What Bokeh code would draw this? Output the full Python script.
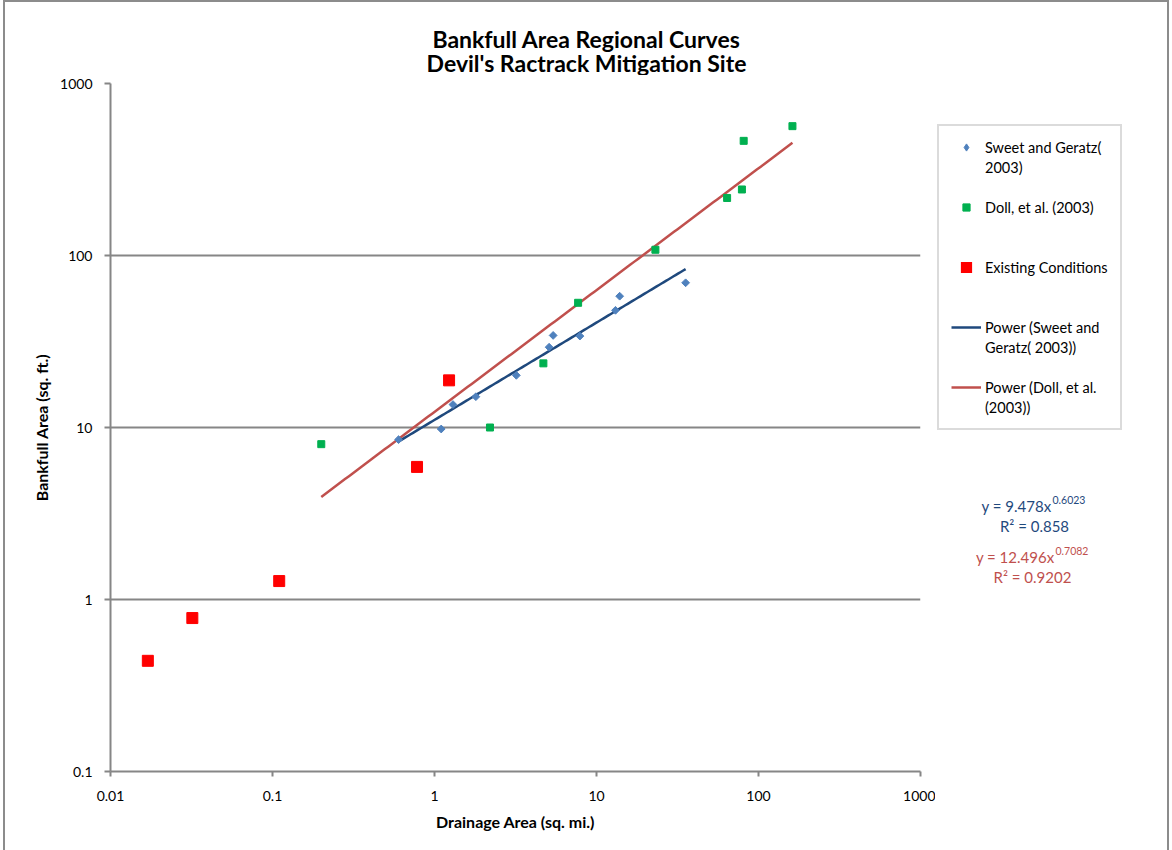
import numpy as np
from bokeh.plotting import figure
from bokeh.layouts import column, row
from bokeh.models import (Range1d, FixedTicker, CustomJSTickFormatter, Label,
                          Legend, LegendItem)
from bokeh.embed import file_html
from bokeh.resources import INLINE

# ---------------- data ----------------
title_lines = ["Bankfull Area Regional Curves", "Devil's Ractrack Mitigation Site"]
x_label = "Drainage Area (sq. mi.)"
y_label = "Bankfull Area (sq. ft.)"
x_ticks = [0.01, 0.1, 1, 10, 100, 1000]
y_ticks = [0.1, 1, 10, 100, 1000]

sweet_x = [0.6, 1.1, 1.3, 1.8, 3.2, 5.1, 5.4, 7.9, 13.1, 13.9, 35.5]
sweet_y = [8.5, 9.8, 13.6, 15.1, 20.1, 29.3, 34.3, 34.0, 48.0, 58.0, 69.4]

doll_x = [0.2, 2.2, 4.7, 7.7, 23.1, 64, 79, 81, 162]
doll_y = [8.0, 10.0, 23.6, 53.1, 108, 216, 242, 464, 565]

exist_x = [0.017, 0.032, 0.11, 0.78, 1.23]
exist_y = [0.44, 0.78, 1.28, 5.9, 18.8]

legend_labels = [["Sweet and Geratz(", "2003)"], ["Doll, et al. (2003)"],
                 ["Existing Conditions"], ["Power (Sweet and", "Geratz( 2003))"],
                 ["Power (Doll, et al.", "(2003))"]]

sweet_eq = ("y = 9.478x", "0.6023", "R\u00b2 = 0.858")
doll_eq = ("y = 12.496x", "0.7082", "R\u00b2 = 0.9202")

# ---------------- styles ----------------
FONT = "Lato"
GRID = "#868686"
BLUE_M = "#4F81BD"
GREEN_M = "#00B050"
RED_M = "#FF0000"
BLUE_L = "#1F497D"
RED_L = "#C0504D"

W_TOTAL, TOP_H, MAIN_W, BODY_H = 1169, 75, 935, 775
SIDE_W = W_TOTAL - MAIN_W
FRAME_W, FRAME_H = 810, 688
LEGEND_SLOTS = 3  # text rows reserved per legend entry


def power_fit(x, y):
    lx, ly = np.log10(x), np.log10(y)
    b, a = np.polyfit(lx, ly, 1)
    xs = np.logspace(lx.min(), lx.max(), 120)
    return xs, 10 ** (a + b * np.log10(xs))


def blank(width, height, rh):
    f = figure(width=width, height=height, x_range=Range1d(0, width), y_range=Range1d(0, rh),
               x_axis_location=None, y_axis_location=None, min_border=0,
               output_backend="svg", toolbar_location=None)
    f.outline_line_color = None
    f.background_fill_color = None
    f.border_fill_color = None
    f.grid.visible = False
    return f


# ---------------- title strip ----------------
top = blank(W_TOTAL, TOP_H, TOP_H)
for txt, yy in zip(title_lines, (TOP_H - 38, TOP_H - 62)):
    top.add_layout(Label(x=586, y=yy, text=txt, text_align="center", text_baseline="middle",
                         text_font=FONT, text_font_size="23px", text_font_style="bold",
                         text_color="black"))

# ---------------- main plot ----------------
p = figure(width=MAIN_W, height=BODY_H, frame_width=FRAME_W, frame_height=FRAME_H,
           min_border_left=110, min_border_top=8, min_border_right=15, min_border_bottom=79,
           x_axis_type="log", y_axis_type="log",
           x_range=Range1d(0.01, 1000), y_range=Range1d(0.1, 1000),
           output_backend="svg", toolbar_location=None)
p.outline_line_color = None
p.background_fill_color = "white"
p.border_fill_color = None

fmt = CustomJSTickFormatter(code="return tick.toString();")
p.xaxis.ticker = FixedTicker(ticks=x_ticks)
p.yaxis.ticker = FixedTicker(ticks=y_ticks)
p.ygrid.ticker = FixedTicker(ticks=y_ticks)
p.xaxis.formatter = fmt
p.yaxis.formatter = fmt
p.xgrid.visible = False
p.ygrid.grid_line_color = GRID
p.ygrid.grid_line_width = 2

for ax in (p.xaxis, p.yaxis):
    ax.axis_line_color = GRID
    ax.axis_line_width = 2
    ax.major_tick_line_color = GRID
    ax.major_tick_line_width = 2
    ax.major_tick_in = 0
    ax.minor_tick_line_color = None
    ax.major_label_text_font = FONT
    ax.major_label_text_font_size = "14px"
    ax.major_label_text_color = "black"
    ax.axis_label_text_font = FONT
    ax.axis_label_text_font_size = "16px"
    ax.axis_label_text_font_style = "bold"
    ax.axis_label_text_color = "black"

p.xaxis.major_tick_out = 5
p.xaxis.major_label_standoff = 14
p.xaxis.axis_label = x_label
p.xaxis.axis_label_standoff = 8
p.yaxis.major_tick_out = 6
p.yaxis.major_label_standoff = 12
p.yaxis.axis_label = y_label
p.yaxis.axis_label_standoff = 6

sx, sy = power_fit(sweet_x, sweet_y)
dx, dy = power_fit(doll_x, doll_y)
p.line(dx, dy, line_color=RED_L, line_width=2.5)
p.line(sx, sy, line_color=BLUE_L, line_width=2.5)
p.scatter(sweet_x, sweet_y, marker="square", angle=np.pi / 4, size=5.5, color=BLUE_M)
p.scatter(doll_x, doll_y, marker="square", size=7, color=GREEN_M)
p.scatter(exist_x, exist_y, marker="square", size=11, color=RED_M)

# ---------------- side panel: legend + equations ----------------
# the row aligns this panel's frame with the main frame (83..771 px on the page)
side = blank(SIDE_W, BODY_H, FRAME_H)
g_s = side.scatter(sweet_x[:1], sweet_y[:1], marker="diamond", size=6, color=BLUE_M,
                   line_width=1, line_join="miter", visible=False)
g_d = side.scatter(doll_x[:1], doll_y[:1], marker="square", size=7, color=GREEN_M,
                   visible=False)
g_e = side.scatter(exist_x[:1], exist_y[:1], marker="square", size=7, color=RED_M,
                   line_width=4, line_join="miter", visible=False)
g_ps = side.line(sx[:2], sy[:2], line_color=BLUE_L, line_width=2.5, visible=False)
g_pd = side.line(dx[:2], dy[:2], line_color=RED_L, line_width=2.5, visible=False)
g_none = side.scatter(exist_x[:1], exist_y[:1], marker="square", alpha=0, visible=False)

items = []
glyphs = [g_s, g_d, g_e, g_ps, g_pd]
for k, (lines, g) in enumerate(zip(legend_labels, glyphs)):
    for j, line in enumerate(lines):
        items.append(LegendItem(label=line, renderers=[g if j == 0 else g_none]))
    if k < len(legend_labels) - 1:
        for _ in range(LEGEND_SLOTS - len(lines)):
            items.append(LegendItem(label=" ", renderers=[g_none]))

legend = Legend(items=items, location=(2, 341))
legend.label_text_font = FONT
legend.label_text_font_size = "14.5px"
legend.label_text_color = "black"
legend.border_line_color = "#b8b8b8"
legend.border_line_width = 2
legend.background_fill_color = None
legend.padding = 12
legend.spacing = 2
legend.glyph_width = 30
legend.glyph_height = 18
legend.label_height = 18
legend.label_standoff = 4
legend.margin = 0
legend.inactive_fill_alpha = 0
side.add_layout(legend, "center")

for eq, col, yy, xr, xc in ((sweet_eq, BLUE_L, 266, 116, 99), (doll_eq, RED_L, 215, 119, 97)):
    side.add_layout(Label(x=xr, y=yy, text=eq[0], text_align="right", text_baseline="middle",
                          text_font=FONT, text_font_size="15px", text_color=col))
    side.add_layout(Label(x=xr + 1, y=yy + 6, text=eq[1], text_align="left",
                          text_baseline="middle", text_font=FONT, text_font_size="10.5px",
                          text_color=col))
    side.add_layout(Label(x=xc, y=yy - 20, text=eq[2], text_align="center",
                          text_baseline="middle", text_font=FONT, text_font_size="15px",
                          text_color=col))

layout = column(top, row(p, side))
layout.styles = {"box-shadow": "inset 3px 0 0 white, inset 5px 0 0 #8c8c8c, "
                               "inset 0 2px 0 #8c8c8c, inset -2px 0 0 #8c8c8c"}

open("out.html", "w").write(file_html(layout, INLINE))
